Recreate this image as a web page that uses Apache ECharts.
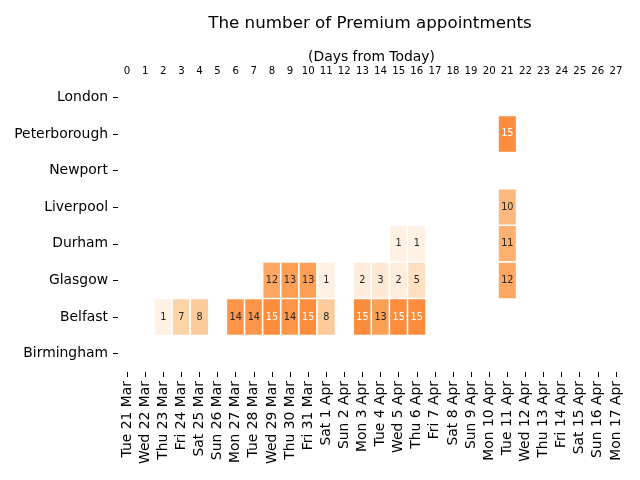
<!DOCTYPE html>
<html>
<head>
<meta charset="utf-8">
<script src="https://cdn.jsdelivr.net/npm/echarts@6/dist/echarts.min.js"></script>
<style>html,body{margin:0;padding:0;background:#fff}#c{width:640px;height:480px}</style>
</head>
<body>
<div id="c"></div>
<script>
const cities = ['London', 'Peterborough', 'Newport', 'Liverpool', 'Durham', 'Glasgow', 'Belfast', 'Birmingham'];
const dates = ['Tue 21 Mar','Wed 22 Mar','Thu 23 Mar','Fri 24 Mar','Sat 25 Mar','Sun 26 Mar','Mon 27 Mar','Tue 28 Mar','Wed 29 Mar','Thu 30 Mar','Fri 31 Mar','Sat 1 Apr','Sun 2 Apr','Mon 3 Apr','Tue 4 Apr','Wed 5 Apr','Thu 6 Apr','Fri 7 Apr','Sat 8 Apr','Sun 9 Apr','Mon 10 Apr','Tue 11 Apr','Wed 12 Apr','Thu 13 Apr','Fri 14 Apr','Sat 15 Apr','Sun 16 Apr','Mon 17 Apr'];
const daysFromToday = ['0','1','2','3','4','5','6','7','8','9','10','11','12','13','14','15','16','17','18','19','20','21','22','23','24','25','26','27'];

// [day index, count]
const londonCounts = [];
const peterboroughCounts = [[21, 15]];
const newportCounts = [];
const liverpoolCounts = [[21, 10]];
const durhamCounts = [[15, 1], [16, 1], [21, 11]];
const glasgowCounts = [[8, 12], [9, 13], [10, 13], [11, 1], [13, 2], [14, 3], [15, 2], [16, 5], [21, 12]];
const belfastCounts = [[2, 1], [3, 7], [4, 8], [6, 14], [7, 14], [8, 15], [9, 14], [10, 15], [11, 8], [13, 15], [14, 13], [15, 15], [16, 15]];
const birminghamCounts = [];

const rows = [londonCounts, peterboroughCounts, newportCounts, liverpoolCounts, durhamCounts, glasgowCounts, belfastCounts, birminghamCounts];
const data = [];
rows.forEach((row, ci) => {
  row.forEach(([d, v]) => {
    data.push({ value: [d, ci, v], label: { color: v >= 15 ? '#ffffff' : '#262626' } });
  });
});

const FONT = 'DejaVu Sans';
const chart = echarts.init(document.getElementById('c'), null, { renderer: 'canvas' });
chart.setOption({
  animation: false,
  backgroundColor: '#ffffff',
  textStyle: { fontFamily: FONT },
  title: {
    text: 'The number of Premium appointments',
    left: 370, top: 15, textAlign: 'center', padding: 0,
    textStyle: { fontFamily: FONT, fontSize: 16.7, fontWeight: 'normal', color: '#000' }
  },
  grid: { left: 118, right: 15, top: 79, bottom: 108, containLabel: false },
  xAxis: [
    {
      type: 'category', position: 'bottom', data: dates,
      axisLine: { show: false },
      axisTick: { show: true, alignWithLabel: true, length: 5, lineStyle: { color: '#000', width: 1 } },
      axisLabel: { rotate: 90, fontSize: 13.9, color: '#000', fontFamily: FONT, margin: 9, interval: 0 },
      splitLine: { show: false }
    },
    {
      type: 'category', position: 'top', data: daysFromToday,
      name: '(Days from Today)', nameLocation: 'middle', nameGap: 15, nameMoveOverlap: false,
      nameTextStyle: { fontSize: 13.9, color: '#000', fontFamily: FONT },
      axisLine: { show: false },
      axisTick: { show: false },
      axisLabel: { fontSize: 10.2, color: '#000', fontFamily: FONT, margin: 3, interval: 0 },
      splitLine: { show: false }
    }
  ],
  yAxis: {
    type: 'category', data: cities, inverse: true,
    axisLine: { show: false },
    axisTick: { show: true, alignWithLabel: true, length: 5, lineStyle: { color: '#000', width: 1 } },
    axisLabel: { fontSize: 13.9, color: '#000', fontFamily: FONT, margin: 10 },
    splitLine: { show: false }
  },
  visualMap: {
    show: false, min: 0, max: 15, dimension: 2,
    inRange: { color: ['#fff5eb', '#fee6ce', '#fdd0a2', '#fdae6b', '#fd8d3c'] }
  },
  series: [{
    type: 'heatmap', xAxisIndex: 0, yAxisIndex: 0,
    data: data,
    itemStyle: { borderColor: '#ffffff', borderWidth: 1.6 },
    label: { show: true, fontSize: 9.7, fontFamily: FONT, formatter: p => String(p.value[2]) },
    emphasis: { disabled: true }
  }]
});
</script>
</body>
</html>
